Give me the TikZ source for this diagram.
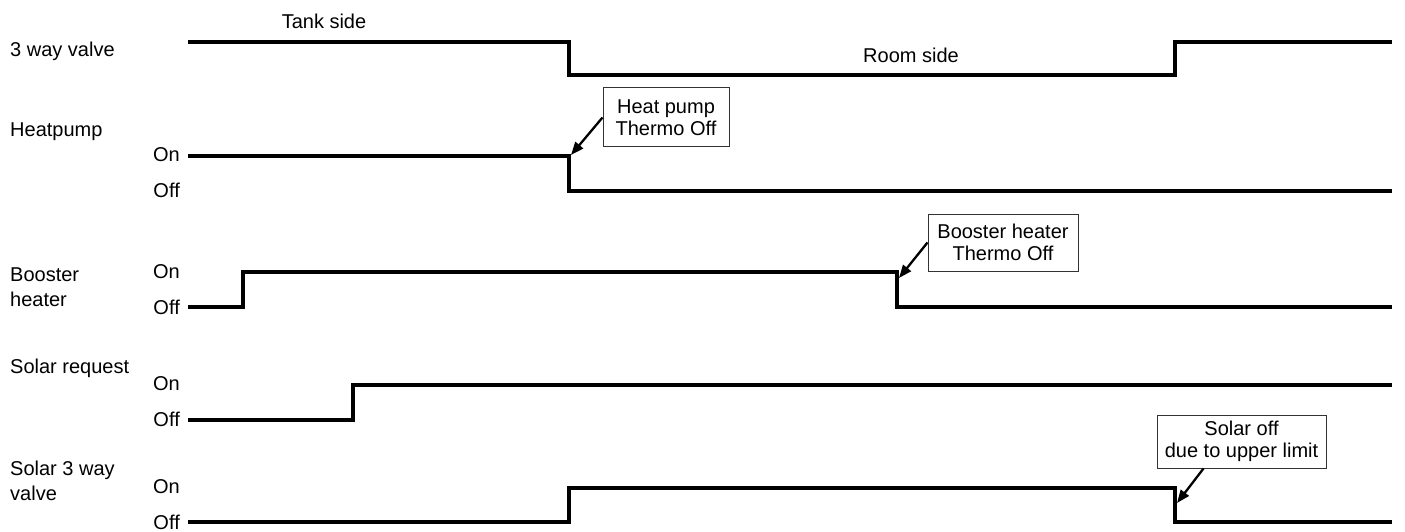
\documentclass[tikz,border=0pt]{standalone}
\usepackage{fontspec}
\setmainfont{Liberation Sans}
\usetikzlibrary{arrows.meta}
\tikzset{
  lbl/.style={font=\fontsize{20}{25}\selectfont, anchor=base west, inner sep=0pt, align=left},
  onoff/.style={font=\fontsize{20}{25}\selectfont, anchor=base east, inner sep=0pt},
  trace/.style={line width=4pt, line join=miter},
  note/.style={draw=black!80, line width=1pt, fill=white, align=center, inner sep=2pt,
    font=\fontsize{20}{22}\selectfont},
  pointer/.style={line width=2.3pt, -{Triangle[length=13pt,width=10pt]}},
}

\begin{document}
\begin{tikzpicture}[x=1pt, y=-1pt]
\useasboundingbox (0,0) rectangle (1405,532);
% signal names
\node[lbl] (valve) at (10,57) {3 way valve};
\node[lbl] (hp) at (10,137) {Heatpump};
\node[lbl, anchor=west] (bh) at (10,287) {Booster\\heater};
\node[lbl] (sr) at (10,373) {Solar request};
\node[lbl, anchor=west] (sv) at (10,481) {Solar 3 way\\valve};
% levels
\foreach \y/\n in {161/hp,278/bh,390/sr,493/sv} {
  \node[onoff] (on-\n) at (180,\y) {On};
  \node[onoff] (off-\n) at (180,\y+36) {Off};
}
\node[lbl, anchor=base] (tank) at (324,29) {Tank side};
\node[lbl, anchor=base] (room) at (911,63) {Room side};
% traces
\draw[trace] (188,42) -| (569,75) -| (1175,42) -- (1392,42);
\draw[trace] (188,156) -| (569,191) -- (1392,191);
\draw[trace] (188,307) -| (243,272) -| (897,307) -- (1392,307);
\draw[trace] (188,420) -| (353,385) -- (1392,385);
\draw[trace] (188,522) -| (569,488) -| (1175,522) -- (1392,522);
% notes
\node[note, minimum width=126pt, minimum height=59pt] (hpnote) at (666,117.5) {Heat pump\\Thermo Off};
\node[note, minimum width=150pt, minimum height=57pt] (bhnote) at (1003,242.5) {Booster heater\\Thermo Off};
\node[note, minimum width=169pt, minimum height=53pt] (svnote) at (1241.5,441.5) {Solar off\\due to upper limit};
\coordinate (hpoff) at (571,155);
\coordinate (bhoff) at (899,278);
\coordinate (svoff) at (1177,503);
\draw[pointer] (hpnote.west) -- (hpoff);
\draw[pointer] (bhnote.west) -- (bhoff);
\draw[pointer] ([xshift=-38pt]svnote.south) -- (svoff);
\end{tikzpicture}
\end{document}
